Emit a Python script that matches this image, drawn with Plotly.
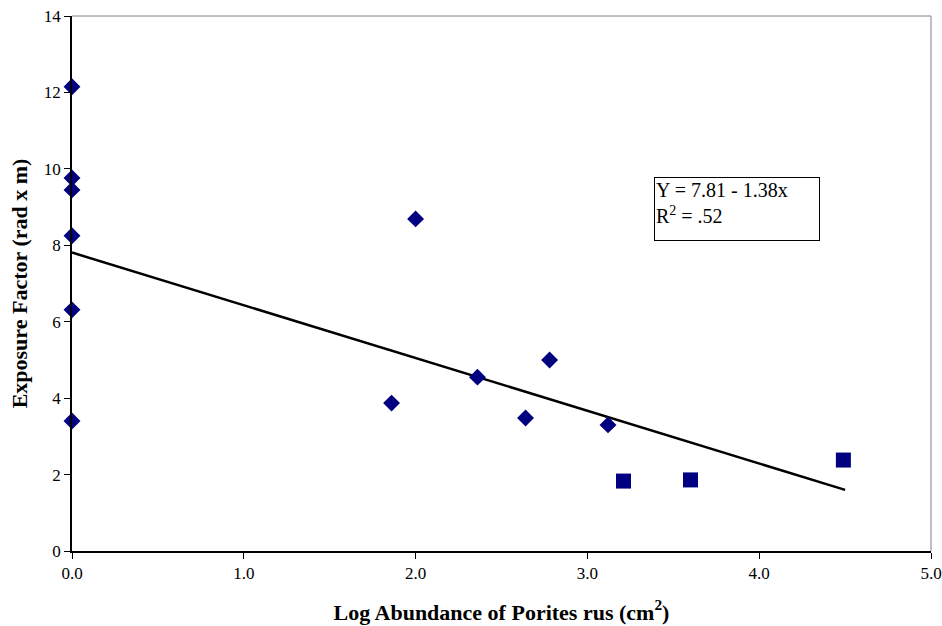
import plotly.graph_objects as go

# Diamond series (x = log abundance, y = exposure factor)
diamond_x = [0.0, 0.0, 0.0, 0.0, 0.0, 0.0, 2.0, 1.86, 2.36, 2.78, 2.64, 3.12]
diamond_y = [12.15, 9.76, 9.45, 8.25, 6.31, 3.40, 8.69, 3.87, 4.55, 5.0, 3.48, 3.30]

# Square series
square_x = [3.21, 3.60, 4.49]
square_y = [1.83, 1.86, 2.38]

# Regression line Y = 7.81 - 1.38x
fit_intercept = 7.81
fit_slope = -1.38
fit_x = [0.0, 4.5]
fit_y = [fit_intercept + fit_slope * v for v in fit_x]

x_ticks = [0, 1, 2, 3, 4, 5]
x_ticklabels = ["0.0", "1.0", "2.0", "3.0", "4.0", "5.0"]
y_ticks = [0, 2, 4, 6, 8, 10, 12, 14]

font_family = "Liberation Serif, Times New Roman, serif"

fig = go.Figure()
fig.add_trace(go.Scatter(x=fit_x, y=fit_y, mode="lines",
                         line=dict(color="black", width=2.5), showlegend=False, hoverinfo="skip"))
fig.add_trace(go.Scatter(x=diamond_x, y=diamond_y, mode="markers",
                         marker=dict(symbol="diamond", size=13, color="#000080"),
                         showlegend=False, cliponaxis=False))
fig.add_trace(go.Scatter(x=square_x, y=square_y, mode="markers",
                         marker=dict(symbol="square", size=15, color="#000080"),
                         showlegend=False, cliponaxis=False))

fig.update_layout(
    width=942, height=626,
    margin=dict(l=72, r=11, t=16, b=75),
    paper_bgcolor="white", plot_bgcolor="white",
    font=dict(family=font_family, color="black", size=17),
    xaxis=dict(range=[0, 5], tickvals=x_ticks, ticktext=x_ticklabels, automargin=False,
               showgrid=False, zeroline=False, showline=True, linecolor="black", linewidth=1.5,
               ticks="outside", ticklen=6, tickcolor="black", tickfont=dict(size=17),
               title=dict(text="<b>Log Abundance of Porites rus (cm<sup>2</sup>)</b>",
                          font=dict(size=22), standoff=22),
               mirror=False),
    yaxis=dict(range=[0, 14], tickvals=y_ticks, automargin=False,
               showgrid=False, zeroline=False, showline=True, linecolor="black", linewidth=1.5,
               ticks="outside", ticklen=6, tickcolor="black", tickfont=dict(size=17),
               title=dict(text="<b>Exposure Factor (rad x m)</b>", font=dict(size=22), standoff=10)),
    shapes=[
        dict(type="line", xref="paper", yref="paper", x0=0, x1=1, y0=1, y1=1,
             line=dict(color="#808080", width=1)),
        dict(type="line", xref="paper", yref="paper", x0=1, x1=1, y0=0, y1=1,
             line=dict(color="#808080", width=1)),
    ],
    annotations=[
        dict(xref="paper", yref="paper", x=(654 - 72) / 859, y=(551 - 177) / 535,
             xanchor="left", yanchor="top", align="left",
             text="Y = 7.81 - 1.38x<br>R<sup>2</sup> = .52",
             showarrow=False, bordercolor="black", borderwidth=1, bgcolor="white",
             width=162, height=60, valign="top", borderpad=1, font=dict(size=20)),
    ],
)

fig.write_html("out.html")
